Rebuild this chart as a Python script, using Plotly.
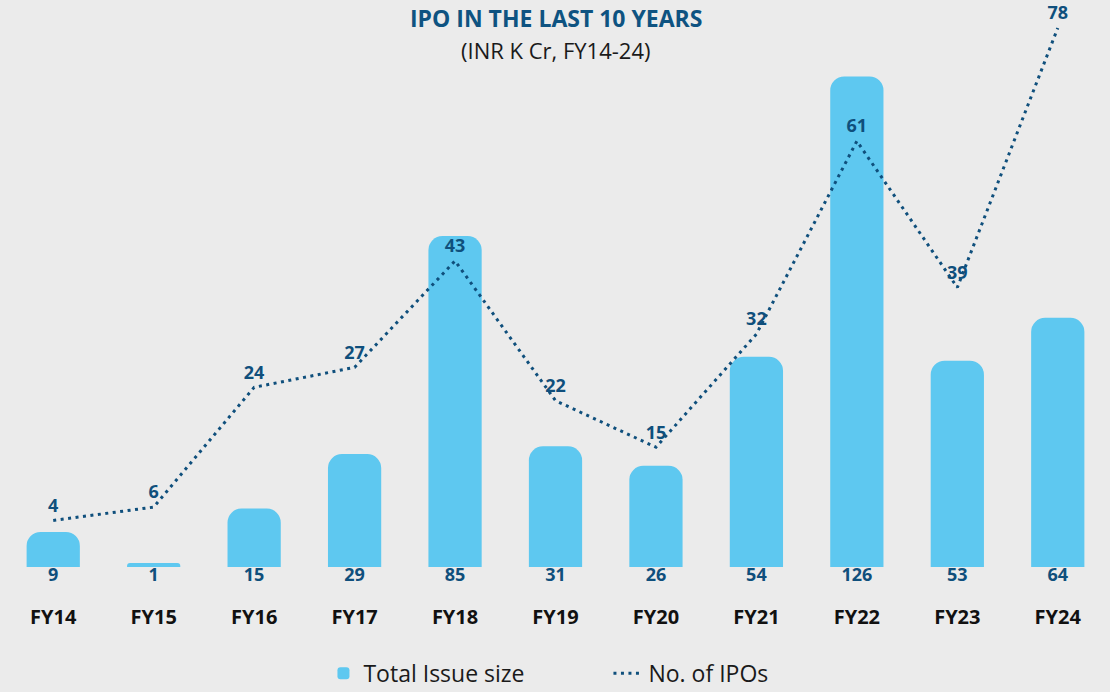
import plotly.graph_objects as go

years = ["FY14", "FY15", "FY16", "FY17", "FY18", "FY19", "FY20", "FY21", "FY22", "FY23", "FY24"]
issue_size = [9, 1, 15, 29, 85, 31, 26, 54, 126, 53, 64]
num_ipos = [4, 6, 24, 27, 43, 22, 15, 32, 61, 39, 78]

BAR = "#5ec8f0"
DARK = "#0f4f7c"
FONT = "Open Sans"

fig = go.Figure()
fig.add_trace(go.Bar(
    x=years, y=issue_size, name="Total Issue size",
    marker=dict(color=BAR, cornerradius=14, line=dict(width=0)),
    width=0.53, hoverinfo="x+y",
))
fig.add_trace(go.Scatter(
    x=years, y=[0] * len(years), mode="text", text=[str(v) for v in issue_size],
    textposition="bottom center", showlegend=False, cliponaxis=False,
    textfont=dict(family=FONT, size=18, color=DARK, weight="bold"), hoverinfo="skip",
))
fig.add_trace(go.Scatter(
    x=years, y=num_ipos, name="No. of IPOs", yaxis="y2", cliponaxis=False,
    mode="lines+markers+text", text=[str(v) for v in num_ipos], textposition="top center",
    marker=dict(size=5, color="rgba(0,0,0,0)"),
    line=dict(color=DARK, width=3, dash="3px,4.5px"),
    textfont=dict(family=FONT, size=18, color=DARK, weight="bold"),
))

fig.update_layout(
    width=1110, height=692,
    margin=dict(l=3, r=2, t=22, b=125, autoexpand=False),
    paper_bgcolor="#ebebeb", plot_bgcolor="rgba(0,0,0,0)",
    font=dict(family=FONT, color="#1a1a1a"),
    annotations=[
        dict(text="<b>IPO IN THE LAST 10 YEARS</b>", xref="paper", yref="paper",
             x=0.5, y=1, yshift=4, xanchor="center", yanchor="middle", showarrow=False,
             font=dict(family=FONT, size=23, color="#0e5381")),
        dict(text="(INR K Cr, FY14-24)", xref="paper", yref="paper",
             x=0.5, y=1, yshift=-28, xanchor="center", yanchor="middle", showarrow=False,
             font=dict(family=FONT, size=22, color="#1a1a1a")),
    ],
    xaxis=dict(showgrid=False, showline=False, zeroline=False, ticks="",
               tickfont=dict(family=FONT, size=20, color="#111", weight="bold"),
               ticklabelstandoff=36, range=[-0.5, 10.5]),
    yaxis=dict(visible=False, range=[0, 140], showgrid=False),
    yaxis2=dict(visible=False, overlaying="y", range=[-3, 78.9], showgrid=False),
    legend=dict(orientation="h", x=0.29, xanchor="left", y=0.027, yanchor="middle",
                yref="container",
                font=dict(family=FONT, size=23, color="#1a1a1a"),
                bgcolor="rgba(0,0,0,0)", itemwidth=30,
                entrywidth=240, entrywidthmode="pixels"),
    bargap=0.47, showlegend=True,
)
fig.write_html("out.html", config={"displayModeBar": False},
               post_script="document.body.style.margin='0';document.body.style.overflow='hidden';")
